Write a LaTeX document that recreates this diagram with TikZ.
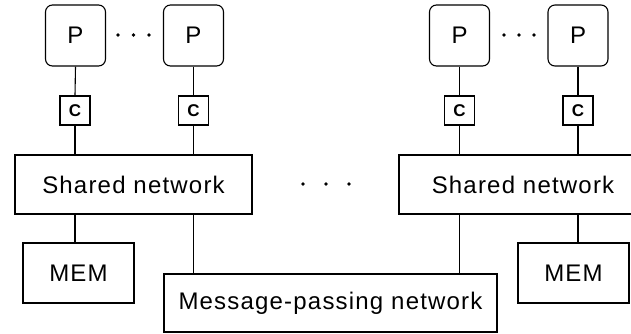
\documentclass[tikz,border=0pt]{standalone}
\usepackage{fontspec}
\setmainfont{Liberation Sans}[LetterSpace=5]
\begin{document}
\begin{tikzpicture}[x=1pt,y=-1pt,
  line width=1.1pt,
  pbox/.style={draw, rounded corners=7pt, minimum width=60pt, minimum height=61pt, inner sep=0pt, font=\fontsize{24}{26}\selectfont},
  cbox/.style={draw, minimum width=30pt, minimum height=29pt, inner sep=0pt, font=\fontsize{17}{18}\selectfont\bfseries},
  netbox/.style={draw, minimum height=59pt, inner sep=0pt, font=\fontsize{24}{26}\selectfont},
  membox/.style={draw, minimum width=111pt, minimum height=60pt, inner sep=0pt, font=\fontsize{24}{26}\selectfont},
  conn/.style={draw},
  dotmark/.style={circle, fill, inner sep=0pt, minimum size=3.6pt}
]
\useasboundingbox (0,0) rectangle (631,333);
\clip (0,0) rectangle (631,333);
% processors
\node[pbox] (p1) at (75.5,35.5) {P};
\node[pbox] (p2) at (193.5,35.5) {P};
\node[pbox] (p3) at (459.5,35.5) {P};
\node[pbox] (p4) at (578,35.5) {P};
% caches
\node[cbox] (c1) at (75,110.5) {C};
\node[cbox] (c2) at (193.5,110.5) {C};
\node[cbox] (c3) at (459.5,110.5) {C};
\node[cbox] (c4) at (578,110.5) {C};
% shared networks
\node[netbox, minimum width=237pt] (s1) at (133.5,184.5) {Shared network};
\node[netbox, minimum width=248pt] (s2) at (523,184.5) {Shared network};
% memories
\node[membox] (m1) at (78.5,273) {MEM};
\node[membox] (m2) at (573.5,273) {MEM};
% message-passing network
\node[netbox, minimum width=333pt, minimum height=58pt] (mp) at (330.5,303) {Message-passing network};
% dots
\node[dotmark] (d1) at (118,35) {};
\node[dotmark] (d2) at (133.5,35) {};
\node[dotmark] (d3) at (149,35) {};
\node[dotmark] (d4) at (504,35) {};
\node[dotmark] (d5) at (519,35) {};
\node[dotmark] (d6) at (534,35) {};
\node[dotmark] (d7) at (303,184) {};
\node[dotmark] (d8) at (326,184) {};
\node[dotmark] (d9) at (349,184) {};
% connectors
\path[conn] (p1.south) -- (c1.north);
\path[conn] (p2.south) -- (c2.north);
\path[conn] (p3.south) -- (c3.north);
\path[conn] (p4.south) -- (c4.north);
\path[conn] (c1.south) -- (c1.south |- s1.north);
\path[conn] (c2.south) -- (c2.south |- s1.north);
\path[conn] (c3.south) -- (c3.south |- s2.north);
\path[conn] (c4.south) -- (c4.south |- s2.north);
\path[conn] (c1.south |- s1.south) -- (c1.south |- m1.north);
\path[conn] (c2.south |- s1.south) -- (c2.south |- mp.north);
\path[conn] (c3.south |- s2.south) -- (c3.south |- mp.north);
\path[conn] (c4.south |- s2.south) -- (c4.south |- m2.north);
\end{tikzpicture}
\end{document}
